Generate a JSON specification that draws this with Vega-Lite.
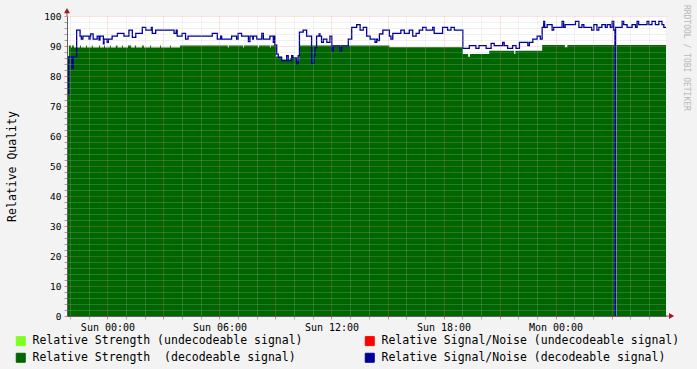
{
  "$schema": "https://vega.github.io/schema/vega-lite/v6.json",
  "width": 599,
  "height": 300,
  "autosize": {"type": "none"},
  "padding": {"left": 67, "top": 16, "right": 31, "bottom": 53},
  "background": "#f3f3f3",
  "config": {
    "view": {"fill": "white", "stroke": null},
    "font": "DejaVu Sans Mono"
  },
  "datasets": {
    "strength": [
      {"t": "2024-01-06T21:50", "v": 83.3},
      {"t": "2024-01-06T21:56", "v": 90.2},
      {"t": "2024-01-06T22:03", "v": 89.5},
      {"t": "2024-01-06T22:06", "v": 90.2},
      {"t": "2024-01-06T22:12", "v": 89.5},
      {"t": "2024-01-06T22:19", "v": 90.2},
      {"t": "2024-01-06T22:22", "v": 89.5},
      {"t": "2024-01-06T22:32", "v": 90.2},
      {"t": "2024-01-06T22:35", "v": 89.5},
      {"t": "2024-01-06T22:51", "v": 90.2},
      {"t": "2024-01-06T22:54", "v": 89.5},
      {"t": "2024-01-06T23:10", "v": 90.2},
      {"t": "2024-01-06T23:13", "v": 89.5},
      {"t": "2024-01-06T23:33", "v": 90.2},
      {"t": "2024-01-06T23:36", "v": 89.5},
      {"t": "2024-01-06T23:49", "v": 90.2},
      {"t": "2024-01-06T23:52", "v": 89.5},
      {"t": "2024-01-07T00:08", "v": 90.2},
      {"t": "2024-01-07T00:11", "v": 89.5},
      {"t": "2024-01-07T00:27", "v": 90.2},
      {"t": "2024-01-07T00:32", "v": 89.5},
      {"t": "2024-01-07T00:47", "v": 90.2},
      {"t": "2024-01-07T00:50", "v": 89.5},
      {"t": "2024-01-07T01:06", "v": 90.2},
      {"t": "2024-01-07T01:16", "v": 89.5},
      {"t": "2024-01-07T01:28", "v": 90.2},
      {"t": "2024-01-07T01:32", "v": 89.5},
      {"t": "2024-01-07T01:51", "v": 90.2},
      {"t": "2024-01-07T01:57", "v": 89.5},
      {"t": "2024-01-07T02:17", "v": 90.2},
      {"t": "2024-01-07T02:20", "v": 89.5},
      {"t": "2024-01-07T02:49", "v": 90.2},
      {"t": "2024-01-07T02:52", "v": 89.5},
      {"t": "2024-01-07T03:21", "v": 90.2},
      {"t": "2024-01-07T03:24", "v": 89.5},
      {"t": "2024-01-07T03:53", "v": 90.2},
      {"t": "2024-01-07T06:27", "v": 89.5},
      {"t": "2024-01-07T06:30", "v": 90.2},
      {"t": "2024-01-07T07:16", "v": 89.5},
      {"t": "2024-01-07T07:19", "v": 90.2},
      {"t": "2024-01-07T08:04", "v": 89.5},
      {"t": "2024-01-07T08:07", "v": 90.2},
      {"t": "2024-01-07T08:42", "v": 89.5},
      {"t": "2024-01-07T08:45", "v": 90.2},
      {"t": "2024-01-07T09:02", "v": 86.5},
      {"t": "2024-01-07T09:21", "v": 85.5},
      {"t": "2024-01-07T09:47", "v": 86},
      {"t": "2024-01-07T10:06", "v": 85},
      {"t": "2024-01-07T10:16", "v": 90.2},
      {"t": "2024-01-07T15:06", "v": 89.6},
      {"t": "2024-01-07T19:02", "v": 87.3},
      {"t": "2024-01-07T19:19", "v": 86.4},
      {"t": "2024-01-07T19:25", "v": 87.3},
      {"t": "2024-01-07T20:27", "v": 88.4},
      {"t": "2024-01-07T21:47", "v": 87.3},
      {"t": "2024-01-07T21:51", "v": 88.4},
      {"t": "2024-01-07T23:17", "v": 90.3},
      {"t": "2024-01-08T00:30", "v": 89.6},
      {"t": "2024-01-08T00:38", "v": 90.3},
      {"t": "2024-01-08T03:10", "v": 0},
      {"t": "2024-01-08T03:16", "v": 90.3},
      {"t": "2024-01-08T05:55", "v": 90.3}
    ],
    "sn": [
      {"t": "2024-01-06T21:50", "v": 74},
      {"t": "2024-01-06T21:55", "v": 86.4},
      {"t": "2024-01-06T22:06", "v": 82.5},
      {"t": "2024-01-06T22:10", "v": 86.4},
      {"t": "2024-01-06T22:21", "v": 95.3},
      {"t": "2024-01-06T22:32", "v": 93.3},
      {"t": "2024-01-06T22:36", "v": 92.3},
      {"t": "2024-01-06T22:41", "v": 93.3},
      {"t": "2024-01-06T23:01", "v": 92.3},
      {"t": "2024-01-06T23:04", "v": 93.3},
      {"t": "2024-01-06T23:06", "v": 94},
      {"t": "2024-01-06T23:14", "v": 92.3},
      {"t": "2024-01-06T23:27", "v": 93.3},
      {"t": "2024-01-06T23:33", "v": 92},
      {"t": "2024-01-06T23:36", "v": 93.3},
      {"t": "2024-01-06T23:47", "v": 90.7},
      {"t": "2024-01-06T23:49", "v": 92.3},
      {"t": "2024-01-06T23:59", "v": 91.2},
      {"t": "2024-01-07T00:03", "v": 92.3},
      {"t": "2024-01-07T00:15", "v": 93.3},
      {"t": "2024-01-07T00:32", "v": 94.2},
      {"t": "2024-01-07T00:53", "v": 93.3},
      {"t": "2024-01-07T01:09", "v": 95.3},
      {"t": "2024-01-07T01:20", "v": 92.9},
      {"t": "2024-01-07T01:31", "v": 94.2},
      {"t": "2024-01-07T01:52", "v": 96.2},
      {"t": "2024-01-07T02:03", "v": 95.3},
      {"t": "2024-01-07T02:21", "v": 96.2},
      {"t": "2024-01-07T02:24", "v": 94.2},
      {"t": "2024-01-07T02:35", "v": 95.3},
      {"t": "2024-01-07T03:34", "v": 94.2},
      {"t": "2024-01-07T03:41", "v": 95.3},
      {"t": "2024-01-07T03:44", "v": 93.3},
      {"t": "2024-01-07T04:00", "v": 94.2},
      {"t": "2024-01-07T04:11", "v": 92.3},
      {"t": "2024-01-07T04:19", "v": 93.3},
      {"t": "2024-01-07T05:37", "v": 94.2},
      {"t": "2024-01-07T05:53", "v": 92.3},
      {"t": "2024-01-07T06:04", "v": 93.3},
      {"t": "2024-01-07T06:07", "v": 92.3},
      {"t": "2024-01-07T06:39", "v": 93.3},
      {"t": "2024-01-07T06:55", "v": 92.3},
      {"t": "2024-01-07T07:00", "v": 94.2},
      {"t": "2024-01-07T07:11", "v": 93.3},
      {"t": "2024-01-07T07:33", "v": 91.5},
      {"t": "2024-01-07T07:38", "v": 93.3},
      {"t": "2024-01-07T07:47", "v": 92.3},
      {"t": "2024-01-07T07:49", "v": 93.3},
      {"t": "2024-01-07T08:00", "v": 92.3},
      {"t": "2024-01-07T08:16", "v": 94.2},
      {"t": "2024-01-07T08:21", "v": 92.3},
      {"t": "2024-01-07T08:42", "v": 93.3},
      {"t": "2024-01-07T08:53", "v": 91.2},
      {"t": "2024-01-07T08:56", "v": 93.3},
      {"t": "2024-01-07T08:58", "v": 90.3},
      {"t": "2024-01-07T09:04", "v": 87.3},
      {"t": "2024-01-07T09:09", "v": 86.2},
      {"t": "2024-01-07T09:20", "v": 85.1},
      {"t": "2024-01-07T09:36", "v": 86.8},
      {"t": "2024-01-07T09:41", "v": 85.1},
      {"t": "2024-01-07T09:52", "v": 86.8},
      {"t": "2024-01-07T09:56", "v": 86},
      {"t": "2024-01-07T10:08", "v": 84},
      {"t": "2024-01-07T10:13", "v": 86.8},
      {"t": "2024-01-07T10:17", "v": 94.6},
      {"t": "2024-01-07T10:29", "v": 95.3},
      {"t": "2024-01-07T10:40", "v": 93.3},
      {"t": "2024-01-07T10:56", "v": 84.2},
      {"t": "2024-01-07T11:04", "v": 86.8},
      {"t": "2024-01-07T11:07", "v": 89.5},
      {"t": "2024-01-07T11:12", "v": 93.3},
      {"t": "2024-01-07T11:20", "v": 94},
      {"t": "2024-01-07T11:23", "v": 93.3},
      {"t": "2024-01-07T11:28", "v": 91.2},
      {"t": "2024-01-07T11:34", "v": 92.3},
      {"t": "2024-01-07T11:45", "v": 91.2},
      {"t": "2024-01-07T11:55", "v": 93.3},
      {"t": "2024-01-07T12:01", "v": 88.4},
      {"t": "2024-01-07T12:06", "v": 90},
      {"t": "2024-01-07T12:27", "v": 88.4},
      {"t": "2024-01-07T12:33", "v": 90},
      {"t": "2024-01-07T12:54", "v": 92.3},
      {"t": "2024-01-07T13:05", "v": 96.2},
      {"t": "2024-01-07T13:21", "v": 97.1},
      {"t": "2024-01-07T13:32", "v": 95.3},
      {"t": "2024-01-07T13:42", "v": 96.2},
      {"t": "2024-01-07T13:53", "v": 93.3},
      {"t": "2024-01-07T14:04", "v": 92.3},
      {"t": "2024-01-07T14:20", "v": 91.2},
      {"t": "2024-01-07T14:25", "v": 92.3},
      {"t": "2024-01-07T14:28", "v": 91.8},
      {"t": "2024-01-07T14:34", "v": 94},
      {"t": "2024-01-07T14:45", "v": 95.3},
      {"t": "2024-01-07T15:06", "v": 93.3},
      {"t": "2024-01-07T15:11", "v": 92.3},
      {"t": "2024-01-07T15:17", "v": 94.2},
      {"t": "2024-01-07T15:43", "v": 95.3},
      {"t": "2024-01-07T15:54", "v": 94.2},
      {"t": "2024-01-07T16:10", "v": 95.3},
      {"t": "2024-01-07T16:21", "v": 93.3},
      {"t": "2024-01-07T16:32", "v": 94.2},
      {"t": "2024-01-07T16:42", "v": 95.3},
      {"t": "2024-01-07T16:53", "v": 96.2},
      {"t": "2024-01-07T17:04", "v": 95.3},
      {"t": "2024-01-07T17:25", "v": 96.2},
      {"t": "2024-01-07T17:30", "v": 94.2},
      {"t": "2024-01-07T17:57", "v": 96.2},
      {"t": "2024-01-07T18:13", "v": 95.3},
      {"t": "2024-01-07T18:24", "v": 96.2},
      {"t": "2024-01-07T18:35", "v": 95.3},
      {"t": "2024-01-07T19:02", "v": 89.2},
      {"t": "2024-01-07T19:23", "v": 90.1},
      {"t": "2024-01-07T19:44", "v": 89.2},
      {"t": "2024-01-07T19:54", "v": 90.1},
      {"t": "2024-01-07T20:17", "v": 89.2},
      {"t": "2024-01-07T20:33", "v": 90.9},
      {"t": "2024-01-07T20:43", "v": 90.1},
      {"t": "2024-01-07T21:10", "v": 91.2},
      {"t": "2024-01-07T21:15", "v": 90.1},
      {"t": "2024-01-07T21:26", "v": 89.2},
      {"t": "2024-01-07T21:42", "v": 90.1},
      {"t": "2024-01-07T21:53", "v": 89.2},
      {"t": "2024-01-07T22:04", "v": 91.2},
      {"t": "2024-01-07T22:31", "v": 90.1},
      {"t": "2024-01-07T22:36", "v": 91.2},
      {"t": "2024-01-07T22:47", "v": 92.3},
      {"t": "2024-01-07T23:01", "v": 93.3},
      {"t": "2024-01-07T23:11", "v": 92.3},
      {"t": "2024-01-07T23:17", "v": 96.2},
      {"t": "2024-01-07T23:22", "v": 98.2},
      {"t": "2024-01-07T23:25", "v": 96.2},
      {"t": "2024-01-07T23:33", "v": 97.1},
      {"t": "2024-01-07T23:49", "v": 95.3},
      {"t": "2024-01-07T23:54", "v": 96.2},
      {"t": "2024-01-08T00:21", "v": 98.2},
      {"t": "2024-01-08T00:26", "v": 96.2},
      {"t": "2024-01-08T00:31", "v": 97.1},
      {"t": "2024-01-08T01:04", "v": 98.2},
      {"t": "2024-01-08T01:15", "v": 96.2},
      {"t": "2024-01-08T01:25", "v": 97.1},
      {"t": "2024-01-08T01:31", "v": 96.2},
      {"t": "2024-01-08T01:56", "v": 95.3},
      {"t": "2024-01-08T02:03", "v": 97.1},
      {"t": "2024-01-08T02:13", "v": 95.3},
      {"t": "2024-01-08T02:19", "v": 96.2},
      {"t": "2024-01-08T02:29", "v": 97.1},
      {"t": "2024-01-08T02:40", "v": 96.2},
      {"t": "2024-01-08T02:46", "v": 97.1},
      {"t": "2024-01-08T02:56", "v": 96.2},
      {"t": "2024-01-08T03:02", "v": 98.2},
      {"t": "2024-01-08T03:07", "v": 95.3},
      {"t": "2024-01-08T03:11", "v": 0},
      {"t": "2024-01-08T03:13", "v": 96.2},
      {"t": "2024-01-08T03:34", "v": 98.2},
      {"t": "2024-01-08T03:39", "v": 97.1},
      {"t": "2024-01-08T03:50", "v": 96.2},
      {"t": "2024-01-08T04:06", "v": 97.1},
      {"t": "2024-01-08T04:17", "v": 96.2},
      {"t": "2024-01-08T04:22", "v": 98.2},
      {"t": "2024-01-08T04:27", "v": 97.1},
      {"t": "2024-01-08T04:54", "v": 98.2},
      {"t": "2024-01-08T05:00", "v": 97.1},
      {"t": "2024-01-08T05:10", "v": 98.2},
      {"t": "2024-01-08T05:21", "v": 97.1},
      {"t": "2024-01-08T05:32", "v": 98.2},
      {"t": "2024-01-08T05:42", "v": 97.1},
      {"t": "2024-01-08T05:48", "v": 96.2},
      {"t": "2024-01-08T05:55", "v": 96.2}
    ]
  },
  "layer": [
    {
      "data": {"name": "strength"},
      "mark": {"type": "area", "interpolate": "step-after", "opacity": 1},
      "encoding": {
        "x": {
          "field": "t",
          "type": "temporal",
          "scale": {
            "type": "time",
            "domain": [
              {"year": 2024, "month": 1, "date": 6, "hours": 21, "minutes": 50},
              {"year": 2024, "month": 1, "date": 8, "hours": 5, "minutes": 55}
            ]
          },
          "axis": {
            "title": null,
            "format": "%a %H:%M",
            "tickCount": 100,
            "values": [
              {"year": 2024, "month": 1, "date": 6, "hours": 22},
              {"year": 2024, "month": 1, "date": 6, "hours": 23},
              {"year": 2024, "month": 1, "date": 7, "hours": 0},
              {"year": 2024, "month": 1, "date": 7, "hours": 1},
              {"year": 2024, "month": 1, "date": 7, "hours": 2},
              {"year": 2024, "month": 1, "date": 7, "hours": 3},
              {"year": 2024, "month": 1, "date": 7, "hours": 4},
              {"year": 2024, "month": 1, "date": 7, "hours": 5},
              {"year": 2024, "month": 1, "date": 7, "hours": 6},
              {"year": 2024, "month": 1, "date": 7, "hours": 7},
              {"year": 2024, "month": 1, "date": 7, "hours": 8},
              {"year": 2024, "month": 1, "date": 7, "hours": 9},
              {"year": 2024, "month": 1, "date": 7, "hours": 10},
              {"year": 2024, "month": 1, "date": 7, "hours": 11},
              {"year": 2024, "month": 1, "date": 7, "hours": 12},
              {"year": 2024, "month": 1, "date": 7, "hours": 13},
              {"year": 2024, "month": 1, "date": 7, "hours": 14},
              {"year": 2024, "month": 1, "date": 7, "hours": 15},
              {"year": 2024, "month": 1, "date": 7, "hours": 16},
              {"year": 2024, "month": 1, "date": 7, "hours": 17},
              {"year": 2024, "month": 1, "date": 7, "hours": 18},
              {"year": 2024, "month": 1, "date": 7, "hours": 19},
              {"year": 2024, "month": 1, "date": 7, "hours": 20},
              {"year": 2024, "month": 1, "date": 7, "hours": 21},
              {"year": 2024, "month": 1, "date": 7, "hours": 22},
              {"year": 2024, "month": 1, "date": 7, "hours": 23},
              {"year": 2024, "month": 1, "date": 8, "hours": 0},
              {"year": 2024, "month": 1, "date": 8, "hours": 1},
              {"year": 2024, "month": 1, "date": 8, "hours": 2},
              {"year": 2024, "month": 1, "date": 8, "hours": 3},
              {"year": 2024, "month": 1, "date": 8, "hours": 4},
              {"year": 2024, "month": 1, "date": 8, "hours": 5}
            ],
            "labelExpr": "hours(datum.value) % 6 == 0 ? datum.label : ''",
            "labelOverlap": false,
            "labelFlush": false,
            "labelFont": "DejaVu Sans Mono",
            "labelFontSize": 10,
            "labelColor": "#000000",
            "labelPadding": 3,
            "grid": true,
            "gridDash": [1, 1],
            "gridColor": {"condition": {"test": "hours(datum.value) % 3 == 0", "value": "#f08080"}, "value": "#c0c0c0"},
            "gridOpacity": 0.45,
            "tickColor": {"condition": {"test": "hours(datum.value) % 3 == 0", "value": "#f08080"}, "value": "#b0b0b0"},
            "tickSize": 3,
            "domainColor": "#606060",
            "zindex": 1
          }
        },
        "y": {
          "field": "v",
          "type": "quantitative",
          "scale": {"domain": [0, 100], "nice": false, "zero": true},
          "axis": {
            "title": "Relative Quality",
            "titleFont": "DejaVu Sans Mono",
            "titleFontSize": 11.5,
            "titleFontWeight": "normal",
            "titleColor": "#000000",
            "titlePadding": 26,
            "tickCount": 100,
            "values": [0, 2, 4, 6, 8, 10, 12, 14, 16, 18, 20, 22, 24, 26, 28, 30, 32, 34, 36, 38, 40, 42, 44, 46, 48, 50, 52, 54, 56, 58, 60, 62, 64, 66, 68, 70, 72, 74, 76, 78, 80, 82, 84, 86, 88, 90, 92, 94, 96, 98, 100],
            "labelExpr": "datum.value % 10 == 0 ? datum.label : ''",
            "labelFont": "DejaVu Sans Mono",
            "labelFontSize": 9.5,
            "labelColor": "#000000",
            "labelPadding": 3,
            "labelOverlap": false,
            "labelFlush": false,
            "grid": true,
            "gridDash": [1, 1],
            "gridColor": {"condition": {"test": "datum.value % 10 == 0", "value": "#f08080"}, "value": "#c0c0c0"},
            "gridOpacity": 0.45,
            "tickColor": {"condition": {"test": "datum.value % 10 == 0", "value": "#f08080"}, "value": "#a0a0a0"},
            "tickSize": 3,
            "domainColor": "#606060",
            "zindex": 1
          }
        },
        "color": {
          "datum": "Relative Strength \u00a0(decodeable signal)",
          "type": "nominal",
          "scale": {
            "domain": [
              "Relative Strength (undecodeable signal)",
              "Relative Signal/Noise (undecodeable signal)",
              "Relative Strength \u00a0(decodeable signal)",
              "Relative Signal/Noise (decodeable signal)"
            ],
            "range": ["#7fff20", "#ff0000", "#006600", "#000099"]
          },
          "legend": {
            "title": null,
            "orient": "none",
            "legendX": -52,
            "legendY": 319,
            "direction": "horizontal",
            "columns": 2,
            "symbolType": "square",
            "symbolSize": 81,
            "symbolStrokeColor": "#000000",
            "symbolStrokeWidth": 1,
            "symbolOpacity": 1,
            "labelFont": "DejaVu Sans Mono",
            "labelFontSize": 11.5,
            "labelColor": "#000000",
            "labelOffset": 6,
            "labelLimit": 0,
            "columnPadding": 60,
            "rowPadding": 3
          }
        }
      }
    },
    {
      "data": {"name": "sn"},
      "mark": {"type": "line", "interpolate": "step-after", "strokeWidth": 1.3},
      "encoding": {
        "x": {"field": "t", "type": "temporal"},
        "y": {"field": "v", "type": "quantitative"},
        "color": {"datum": "Relative Signal/Noise (decodeable signal)", "type": "nominal"}
      }
    },
    {
      "data": {"values": [{}]},
      "mark": {"type": "rule", "color": "#606060", "strokeWidth": 1},
      "encoding": {
        "x": {"datum": {"year": 2024, "month": 1, "date": 6, "hours": 21, "minutes": 50}, "type": "temporal"},
        "y": {"datum": 100, "type": "quantitative"},
        "y2": {"datum": 101.5}
      }
    },
    {
      "data": {"values": [{}]},
      "mark": {"type": "rule", "color": "#606060", "strokeWidth": 1},
      "encoding": {
        "x": {"datum": {"year": 2024, "month": 1, "date": 8, "hours": 5, "minutes": 55}, "type": "temporal"},
        "x2": {"datum": {"year": 2024, "month": 1, "date": 8, "hours": 6, "minutes": 10}},
        "y": {"datum": 0, "type": "quantitative"}
      }
    },
    {
      "data": {"values": [{}]},
      "mark": {"type": "point", "shape": "triangle-up", "filled": true, "color": "#a01818", "size": 35, "opacity": 1},
      "encoding": {
        "x": {"datum": {"year": 2024, "month": 1, "date": 6, "hours": 21, "minutes": 50}, "type": "temporal"},
        "y": {"datum": 101.8, "type": "quantitative"}
      }
    },
    {
      "data": {"values": [{}]},
      "mark": {"type": "point", "shape": "triangle-right", "filled": true, "color": "#a01818", "size": 35, "opacity": 1},
      "encoding": {
        "x": {"datum": {"year": 2024, "month": 1, "date": 8, "hours": 6, "minutes": 13}, "type": "temporal"},
        "y": {"datum": 0, "type": "quantitative"}
      }
    },
    {
      "data": {"values": [{}]},
      "mark": {"type": "text", "angle": 90, "align": "left", "baseline": "middle", "font": "DejaVu Sans Mono", "fontSize": 8, "color": "#b8b8b8"},
      "encoding": {
        "x": {"datum": {"year": 2024, "month": 1, "date": 8, "hours": 7, "minutes": 0}, "type": "temporal"},
        "y": {"datum": 103.7, "type": "quantitative"},
        "text": {"value": "RRDTOOL / TOBI OETIKER"}
      }
    }
  ]
}
